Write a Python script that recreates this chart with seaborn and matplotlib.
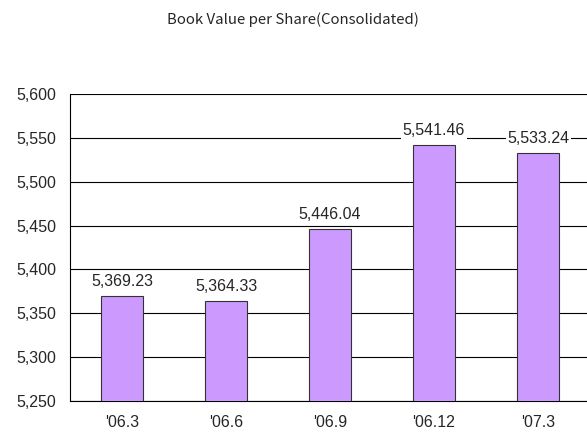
import matplotlib
matplotlib.use("Agg")
import matplotlib.pyplot as plt
import matplotlib.ticker as mticker
import seaborn as sns
import pandas as pd

# data
periods = ["'06.3", "'06.6", "'06.9", "'06.12", "'07.3"]
bvps = [5369.23, 5364.33, 5446.04, 5541.46, 5533.24]
y_ticks = [5250, 5300, 5350, 5400, 5450, 5500, 5550, 5600]

sns.set_style("white")
plt.rcParams['font.family'] = ['Liberation Sans', 'DejaVu Sans']

df = pd.DataFrame({"period": periods, "value": bvps})

fig = plt.figure(figsize=(5.87, 4.32), dpi=100)
ax = fig.add_axes([70 / 587, 31 / 432, 520 / 587, 307 / 432])

sns.barplot(data=df, x="period", y="value", color="#CC99FF", width=0.4,
            edgecolor="#333333", linewidth=0.8, saturation=1, ax=ax, zorder=3)

ax.set_ylim(y_ticks[0], y_ticks[-1])
ax.set_yticks(y_ticks)
ax.yaxis.set_major_formatter(mticker.FuncFormatter(lambda v, p: f"{v:,.0f}"))
ax.grid(axis="y", color="black", linewidth=0.8, zorder=0)
ax.set_axisbelow(True)
ax.set_xlim(-0.5, len(periods) - 0.5)

# category boundary ticks pointing up
ax.set_xticks([i + 0.5 for i in range(len(periods) - 1)], minor=True)
ax.tick_params(axis="x", which="minor", direction="in", length=4, width=0.8, color="black")
ax.tick_params(axis="x", which="major", length=0, pad=10, labelsize=11.5)
ax.tick_params(axis="y", length=0, pad=10, labelsize=11.5)
ax.set_xlabel("")
ax.set_ylabel("")

for s in ["top", "right"]:
    ax.spines[s].set_visible(False)
for s in ["left", "bottom"]:
    ax.spines[s].set_color("black")
    ax.spines[s].set_linewidth(0.8)

for i, v in enumerate(bvps):
    ax.annotate(f"{v:,.2f}", (i, v), xytext=(0, 5), textcoords="offset points",
                ha="center", va="bottom", fontsize=11.5,
                bbox=dict(facecolor="white", edgecolor="none", pad=1), zorder=4)

fig.text(293 / 587, 1 - 20 / 432, "Book Value per Share(Consolidated)",
         ha="center", va="center", fontsize=10.8,
         family=['Noto Sans CJK JP', 'DejaVu Sans'])

fig.savefig("out.png", dpi=100)
